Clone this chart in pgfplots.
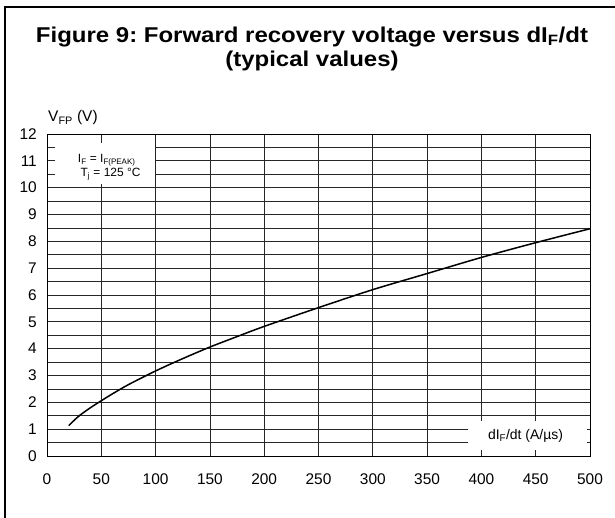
\documentclass[border=0pt]{standalone}
\usepackage{fontspec}
\setmainfont{Liberation Sans}
\usepackage{pgfplots}
\pgfplotsset{compat=1.18}
\frenchspacing
\begin{document}
\begin{tikzpicture}
\useasboundingbox (0bp,0bp) rectangle (615bp,-518bp);
\draw[line width=2bp, line cap=rect] (5bp,-520bp) -- (5bp,-7bp) -- (620bp,-7bp);
\node[anchor=base, inner sep=0pt] at (312bp,-42.7bp) {\scalebox{1.12}[1]{\fontsize{21.5}{24}\selectfont\bfseries\frenchspacing Figure 9: Forward recovery voltage versus dI\textsubscript{F}/dt}};
\node[anchor=base, inner sep=0pt] at (312bp,-66bp) {\scalebox{1.12}[1]{\fontsize{21.5}{24}\selectfont\bfseries (typical values)}};
\node[anchor=base west, inner sep=0pt, font=\fontsize{15.5}{18}\selectfont] at (48bp,-121.7bp) {V\textsubscript{FP} (V)};
\begin{axis}[
  at={(47bp,-456bp)}, anchor=south west,
  scale only axis, width=543bp, height=322bp,
  xmin=0, xmax=500, ymin=0, ymax=12,
  xtick={0,50,...,500}, ytick={0,1,...,12},
  minor ytick={0.5,1.5,...,11.5},
  grid=both,
  major grid style={black!85, line width=0.75bp},
  minor grid style={black!85, line width=0.75bp},
  major tick length=0pt, minor tick length=0pt,
  axis line style={black, line width=0.9bp},
  tick label style={font=\fontsize{15.5}{18}\selectfont},
  /pgf/number format/assume math mode=true,
  xticklabel style={inner sep=0pt, anchor=north, yshift=-18bp},
  yticklabel style={inner sep=0pt, anchor=east, xshift=-10bp},
  clip=false,
]
\addplot[black, line width=1.5bp, smooth] coordinates {
(20,1.13) (25,1.33) (30,1.51) (40,1.80) (50,2.06) (60,2.31) (75,2.66) (100,3.17) (125,3.63) (150,4.06) (175,4.45) (200,4.83) (250,5.53) (300,6.2) (350,6.8) (400,7.4) (450,7.95) (500,8.47)
};
\fill[white] (axis cs:7.5,10.15) rectangle (axis cs:99.6,11.68);
\fill[white] (axis cs:387.7,0.22) rectangle (axis cs:497.2,1.31);
\node[inner sep=0pt, font=\fontsize{12}{14}\selectfont, anchor=base] at (axis cs:55,10.92) {I\textsubscript{F} = I\textsubscript{F(PEAK)}};
\node[inner sep=0pt, font=\fontsize{12}{14}\selectfont, anchor=base] at (axis cs:58.5,10.42) {T\textsubscript{j} = 125 °C};
\node[inner sep=0pt, font=\fontsize{14}{16}\selectfont, anchor=base] at (axis cs:440.6,0.62) {dI\textsubscript{F}/dt (A/µs)};
\end{axis}
\end{tikzpicture}
\end{document}
